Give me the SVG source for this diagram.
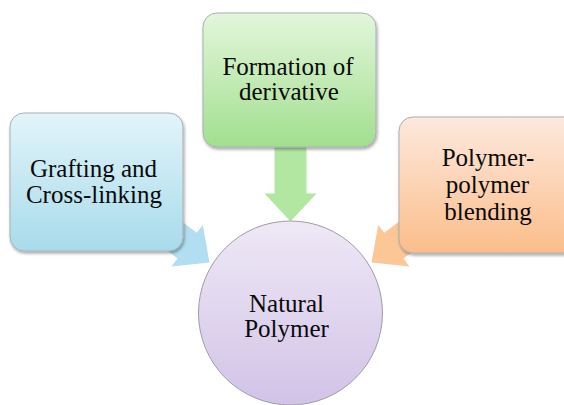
<svg xmlns="http://www.w3.org/2000/svg" width="564" height="405" viewBox="0 0 564 405">
  <defs>
    <linearGradient id="gBlue" x1="0" y1="0" x2="0" y2="1">
      <stop offset="0" stop-color="#e2f4fa"/>
      <stop offset="1" stop-color="#a8dbeb"/>
    </linearGradient>
    <linearGradient id="gGreen" x1="0" y1="0" x2="0" y2="1">
      <stop offset="0" stop-color="#e3f6db"/>
      <stop offset="1" stop-color="#a2df8f"/>
    </linearGradient>
    <linearGradient id="gOrange" x1="0" y1="0" x2="0" y2="1">
      <stop offset="0" stop-color="#fde9de"/>
      <stop offset="1" stop-color="#fbbd8a"/>
    </linearGradient>
    <linearGradient id="gPurple" x1="0" y1="0" x2="0" y2="1">
      <stop offset="0" stop-color="#eee8f6"/>
      <stop offset="1" stop-color="#d2c3e7"/>
    </linearGradient>
    <filter id="shadow" x="-10%" y="-10%" width="125%" height="130%">
      <feDropShadow dx="1" dy="2" stdDeviation="1.5" flood-color="#000" flood-opacity="0.35"/>
    </filter>
    <path id="arrow" d="M0,0 L-28,-26 L-28,-16 L-95,-16 L-95,16 L-28,16 L-28,26 Z"/>
  </defs>
  <style>
    .box { stroke: #a9afb3; stroke-width: 1; filter: url(#shadow); }
    .lbl { font-size: 25px; fill: #0a0a0a; text-anchor: middle; }
  </style>
  <rect width="564" height="405" fill="#ffffff"/>

  <g id="connectors">
    <use href="#arrow" transform="translate(290.5,221.5) rotate(90)" fill="#b2e7a1"/>
    <use href="#arrow" transform="translate(209.5,262.5) rotate(37)" fill="#b1def0"/>
    <use href="#arrow" transform="translate(371.5,262.5) rotate(143)" fill="#fcc797"/>
  </g>

  <g id="natural-polymer" font-family="Liberation Serif, serif">
    <circle cx="290.5" cy="313" r="92" fill="url(#gPurple)" stroke="#a09ca6" stroke-width="1"/>
    <text class="lbl" x="286.5" y="312">Natural</text>
    <text class="lbl" x="286.5" y="336.5">Polymer</text>
  </g>

  <g id="grafting" font-family="Liberation Serif, serif">
    <rect class="box" x="10" y="113" width="173" height="138" rx="14" ry="14" fill="url(#gBlue)"/>
    <text class="lbl" x="93.5" y="176.7">Grafting and</text>
    <text class="lbl" x="94" y="202.7">Cross-linking</text>
  </g>

  <g id="formation" font-family="Liberation Serif, serif">
    <rect class="box" x="203" y="13" width="173" height="134" rx="14" ry="14" fill="url(#gGreen)"/>
    <text class="lbl" x="288" y="75.3">Formation of</text>
    <text class="lbl" x="289" y="100">derivative</text>
  </g>

  <g id="blending" font-family="Liberation Serif, serif">
    <rect class="box" x="399" y="117" width="180" height="136" rx="14" ry="14" fill="url(#gOrange)"/>
    <text class="lbl" x="488" y="166">Polymer-</text>
    <text class="lbl" x="487.5" y="192.7">polymer</text>
    <text class="lbl" x="488" y="220">blending</text>
  </g>
</svg>
